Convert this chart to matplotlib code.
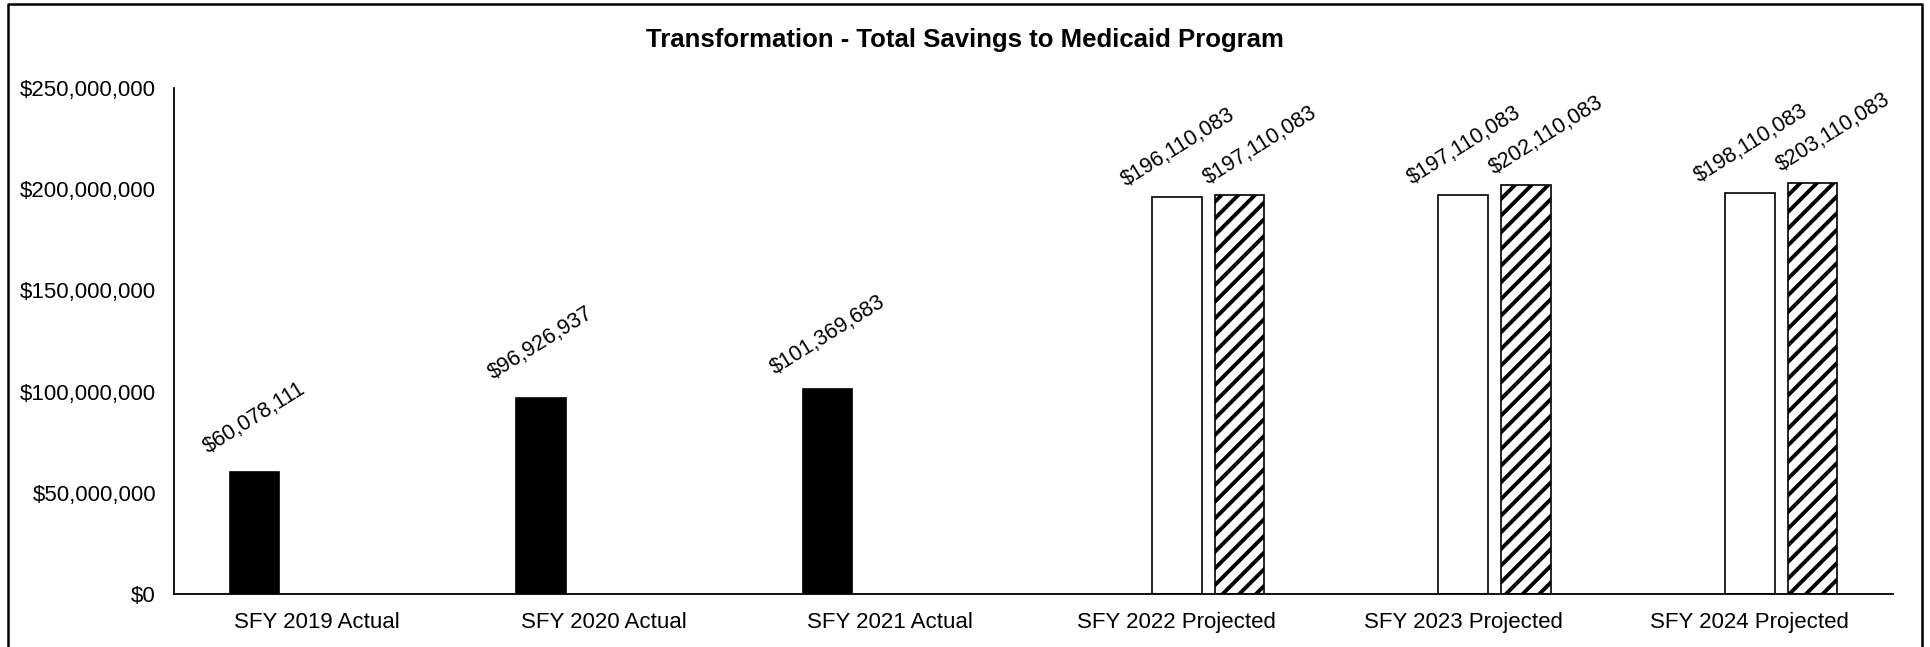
import numpy as np
import matplotlib
matplotlib.use("Agg")
import matplotlib.pyplot as plt
from matplotlib.lines import Line2D
from matplotlib.ticker import FuncFormatter

categories = ["SFY 2019 Actual", "SFY 2020 Actual", "SFY 2021 Actual",
              "SFY 2022 Projected", "SFY 2023 Projected", "SFY 2024 Projected"]
actual = [60078111, 96926937, 101369683, np.nan, np.nan, np.nan]
projected_low = [np.nan, np.nan, np.nan, 196110083, 197110083, 198110083]
projected_high = [np.nan, np.nan, np.nan, 197110083, 202110083, 203110083]
title = "Transformation - Total Savings to Medicaid Program"
y_ticks = [0, 50000000, 100000000, 150000000, 200000000, 250000000]

plt.rcParams['font.family'] = ['Liberation Sans', 'DejaVu Sans']
plt.rcParams['hatch.linewidth'] = 2.8

W, H = 1930, 647
fig = plt.figure(figsize=(W / 100, H / 100), dpi=100)
ax = fig.add_axes([174 / W, 1 - 594 / H, (1893 - 174) / W, (594 - 88) / H])

x = np.arange(len(categories))
bw = 0.174
off = 0.219

series = [
    (actual, -off, dict(color="black", edgecolor="black"), (0, 39)),
    (projected_low, 0.0, dict(color="white", edgecolor="black"), (1, 36)),
    (projected_high, off, dict(color="white", edgecolor="black", hatch="//"), (15, 36)),
]

for vals, dx, style, lab_off in series:
    v = np.array(vals, dtype=float)
    mask = ~np.isnan(v)
    ax.bar(x[mask] + dx, v[mask], width=bw, linewidth=1.2, zorder=2, **style)
    for xi, yi in zip(x[mask] + dx, v[mask]):
        ax.annotate(f"${yi:,.0f}", xy=(xi, yi), xytext=lab_off,
                    textcoords="offset points", ha="center", va="center",
                    rotation=32, rotation_mode="anchor", fontsize=15.5,
                    color="black")

ax.set_xlim(-0.5, len(categories) - 0.5)
ax.set_ylim(0, 250000000)
ax.set_yticks(y_ticks)
ax.yaxis.set_major_formatter(FuncFormatter(lambda v, p: f"${v:,.0f}"))
ax.set_xticks(x)
ax.set_xticklabels(categories)
ax.tick_params(axis="both", length=0, labelsize=16, colors="black")
ax.tick_params(axis="y", pad=13)
ax.tick_params(axis="x", pad=13)
for s in ["top", "right"]:
    ax.spines[s].set_visible(False)
for s in ["left", "bottom"]:
    ax.spines[s].set_color("black")
    ax.spines[s].set_linewidth(1.3)

fig.text(0.5, 1 - 47 / H, title, ha="center", va="baseline",
         fontsize=18.5, fontweight="bold")

# outer frame (left, top, right)
fx0, fx1, fy1 = 8 / W, 1922 / W, 1 - 4 / H
fig.add_artist(Line2D([fx0, fx0, fx1, fx1], [0, fy1, fy1, 0],
                      transform=fig.transFigure, color="black", linewidth=1.8))

fig.savefig("out.png", dpi=100)
